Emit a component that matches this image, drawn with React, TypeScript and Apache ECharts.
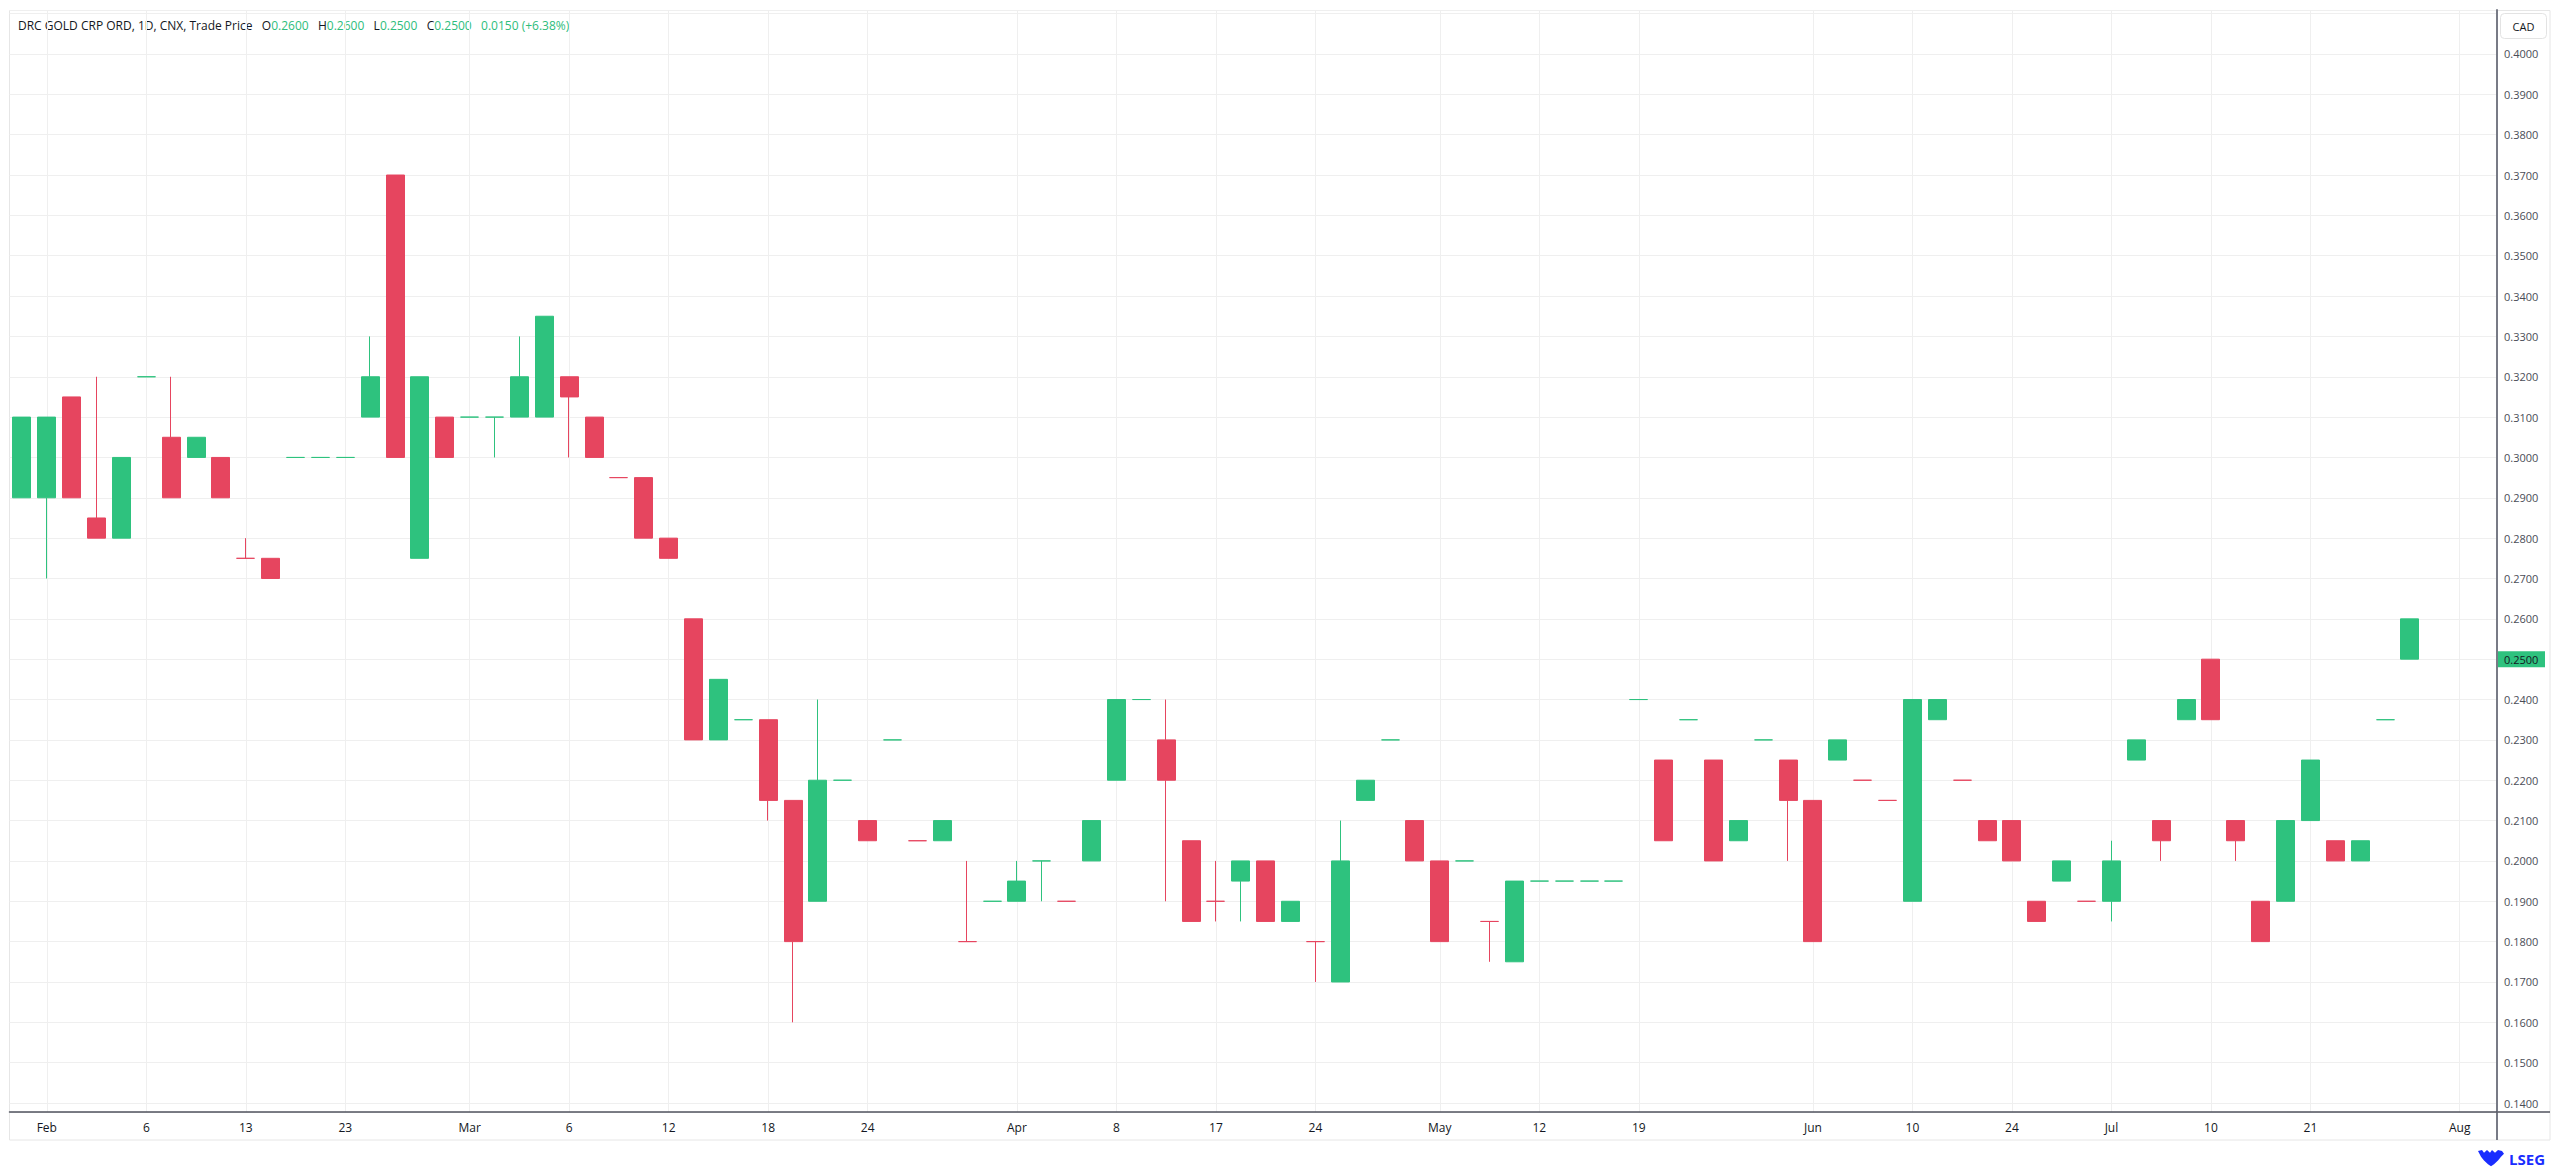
import React, { useEffect, useRef } from "react";
import * as echarts from "echarts";

// Daily OHLC bars (trading-price bars, coloured against the previous close)
const openP = [
  0.31, 0.29, 0.315, 0.285, 0.28, 0.32, 0.305, 0.3, 0.3, 0.275,
  0.275, 0.3, 0.3, 0.3, 0.31, 0.37, 0.275, 0.31, 0.31, 0.31,
  0.31, 0.31, 0.32, 0.31, 0.295, 0.295, 0.28, 0.26, 0.245, 0.235,
  0.235, 0.215, 0.19, 0.22, 0.21, 0.23, 0.205, 0.205, 0.18, 0.19,
  0.19, 0.2, 0.19, 0.2, 0.22, 0.24, 0.23, 0.185, 0.19, 0.195,
  0.2, 0.185, 0.18, 0.17, 0.215, 0.23, 0.21, 0.2, 0.2, 0.185,
  0.175, 0.195, 0.195, 0.195, 0.195, 0.24, 0.225, 0.235, 0.225, 0.205,
  0.23, 0.225, 0.215, 0.225, 0.22, 0.215, 0.19, 0.235, 0.22, 0.21,
  0.21, 0.19, 0.195, 0.19, 0.19, 0.225, 0.21, 0.235, 0.25, 0.21,
  0.19, 0.19, 0.21, 0.205, 0.2, 0.235, 0.26,
];
const closeP = [
  0.29, 0.31, 0.29, 0.28, 0.3, 0.32, 0.29, 0.305, 0.29, 0.275,
  0.27, 0.3, 0.3, 0.3, 0.32, 0.3, 0.32, 0.3, 0.31, 0.31,
  0.32, 0.335, 0.315, 0.3, 0.295, 0.28, 0.275, 0.23, 0.23, 0.235,
  0.215, 0.18, 0.22, 0.22, 0.205, 0.23, 0.205, 0.21, 0.18, 0.19,
  0.195, 0.2, 0.19, 0.21, 0.24, 0.24, 0.22, 0.205, 0.19, 0.2,
  0.185, 0.19, 0.18, 0.2, 0.22, 0.23, 0.2, 0.18, 0.2, 0.185,
  0.195, 0.195, 0.195, 0.195, 0.195, 0.24, 0.205, 0.235, 0.2, 0.21,
  0.23, 0.215, 0.18, 0.23, 0.22, 0.215, 0.24, 0.24, 0.22, 0.205,
  0.2, 0.185, 0.2, 0.19, 0.2, 0.23, 0.205, 0.24, 0.235, 0.205,
  0.18, 0.21, 0.225, 0.2, 0.205, 0.235, 0.25,
];
const lowP = [
  0.29, 0.27, 0.29, 0.28, 0.28, 0.32, 0.29, 0.3, 0.29, 0.275,
  0.27, 0.3, 0.3, 0.3, 0.31, 0.3, 0.275, 0.3, 0.31, 0.3,
  0.31, 0.31, 0.3, 0.3, 0.295, 0.28, 0.275, 0.23, 0.23, 0.235,
  0.21, 0.16, 0.19, 0.22, 0.205, 0.23, 0.205, 0.205, 0.18, 0.19,
  0.19, 0.19, 0.19, 0.2, 0.22, 0.24, 0.19, 0.185, 0.185, 0.185,
  0.185, 0.185, 0.17, 0.17, 0.215, 0.23, 0.2, 0.18, 0.2, 0.175,
  0.175, 0.195, 0.195, 0.195, 0.195, 0.24, 0.205, 0.235, 0.2, 0.205,
  0.23, 0.2, 0.18, 0.225, 0.22, 0.215, 0.19, 0.235, 0.22, 0.205,
  0.2, 0.185, 0.195, 0.19, 0.185, 0.225, 0.2, 0.235, 0.235, 0.2,
  0.18, 0.19, 0.21, 0.2, 0.2, 0.235, 0.25,
];
const highP = [
  0.31, 0.31, 0.315, 0.32, 0.3, 0.32, 0.32, 0.305, 0.3, 0.28,
  0.275, 0.3, 0.3, 0.3, 0.33, 0.37, 0.32, 0.31, 0.31, 0.31,
  0.33, 0.335, 0.32, 0.31, 0.295, 0.295, 0.28, 0.26, 0.245, 0.235,
  0.235, 0.215, 0.24, 0.22, 0.21, 0.23, 0.205, 0.21, 0.2, 0.19,
  0.2, 0.2, 0.19, 0.21, 0.24, 0.24, 0.24, 0.205, 0.2, 0.2,
  0.2, 0.19, 0.18, 0.21, 0.22, 0.23, 0.21, 0.2, 0.2, 0.185,
  0.195, 0.195, 0.195, 0.195, 0.195, 0.24, 0.225, 0.235, 0.225, 0.21,
  0.23, 0.225, 0.215, 0.23, 0.22, 0.215, 0.24, 0.24, 0.22, 0.21,
  0.21, 0.19, 0.2, 0.19, 0.205, 0.23, 0.21, 0.24, 0.25, 0.21,
  0.19, 0.21, 0.225, 0.205, 0.205, 0.235, 0.26,
];

// x axis slots (one per bar, plus empty slots to the right) and tick labels
const slotCount = 100;
const tickIndex = [1, 5, 9, 13, 18, 22, 26, 30, 34, 40, 44, 48, 52, 57, 61, 65, 72, 76, 80, 84, 88, 92, 98];
const tickText = ["Feb", "6", "13", "23", "Mar", "6", "12", "18", "24", "Apr", "8", "17", "24", "May", "12", "19", "Jun", "10", "24", "Jul", "10", "21", "Aug"];

// price scale
const yMin = 0.13777;
const yMax = 0.4109;

const UP = "#2ec27e";
const DOWN = "#e6455f";

const title = "DRC GOLD CRP ORD, 1D, CNX, Trade Price";
const currency = "CAD";

echarts.graphic.registerShape(
  "lsegCrest",
  echarts.graphic.extendPath(
    "M0 1 L4 0 L6 3 L9 0 L12 3 L14 0 L17 3 L20 0 L24 1 L26 4 L23 7 L20 11 L16 15 L13 17 L10 15 L6 11 L3 7 Z",
    {}
  )
);

export default function App() {
  const ref = useRef<HTMLDivElement>(null);

  useEffect(() => {
    document.body.style.margin = "0";
    if (!ref.current) return;
    const chart = echarts.init(ref.current, undefined, { renderer: "svg" });

    const cats = Array.from({ length: slotCount }, (_, i) => String(i));
    const labelMap: Record<number, string> = {};
    tickIndex.forEach((ix, k) => (labelMap[ix] = tickText[k]));

    const items = openP.map((o, i) => {
      const up = i === 0 ? true : closeP[i] >= closeP[i - 1];
      const c = up ? UP : DOWN;
      return {
        value: [o, closeP[i], lowP[i], highP[i]],
        itemStyle: { color: c, color0: c, borderColor: c, borderColor0: c, borderColorDoji: c },
      };
    });

    const n = closeP.length - 1;
    const chg = closeP[n] - closeP[n - 1];
    const pct = (chg / closeP[n - 1]) * 100;
    const f4 = (v: number) => v.toFixed(4);
    const header =
      `{t|${title}   O}{g|${f4(openP[n])}}{t|   H}{g|${f4(highP[n])}}` +
      `{t|   L}{g|${f4(lowP[n])}}{t|   C}{g|${f4(closeP[n])}}` +
      `{g|   ${f4(chg)} (${chg >= 0 ? "+" : ""}${pct.toFixed(2)}%)}`;

    const font = "'Open Sans', 'Noto Sans', sans-serif";

    chart.setOption({
      animation: false,
      backgroundColor: "#ffffff",
      textStyle: { fontFamily: font },
      grid: { left: 9.5, right: 63, top: 10, bottom: 58, containLabel: false },
      xAxis: {
        type: "category",
        data: cats,
        boundaryGap: true,
        axisLine: { show: true, lineStyle: { color: "#50535e", width: 1.5 } },
        axisTick: { show: false },
        axisLabel: {
          interval: (i: number) => labelMap[i] !== undefined,
          formatter: (v: string) => labelMap[Number(v)] ?? "",
          color: "#131722",
          fontSize: 12,
          fontFamily: font,
          margin: 9,
        },
        splitLine: {
          show: true,
          alignWithLabel: true,
          interval: (i: number) => labelMap[i] !== undefined,
          lineStyle: { color: "#efefef", width: 1 },
        },
      },
      yAxis: {
        type: "value",
        position: "right",
        min: yMin,
        max: yMax,
        splitNumber: 27,
        scale: true,
        axisLine: { show: true, lineStyle: { color: "#787b86", width: 2 } },
        axisTick: { show: false },
        axisLabel: {
          color: "#4a4d57",
          fontSize: 11,
          fontFamily: font,
          margin: 7,
          formatter: (v: number) => {
            const k = v * 100;
            if (Math.abs(k - Math.round(k)) > 1e-6) return "";
            if (v > 0.4005) return "";
            return v.toFixed(4);
          },
        },
        splitLine: { show: true, lineStyle: { color: "#efefef", width: 1 } },
      },
      series: [
        {
          type: "candlestick",
          data: items,
          barWidth: 18.5,
          itemStyle: { borderWidth: 1 },
          emphasis: { disabled: true },
        },
      ],
      graphic: [
        {
          id: "frame",
          type: "rect",
          shape: { x: 9.5, y: 10.5, width: 2540.5, height: 1129.5 },
          style: { fill: "none", stroke: "#e6e6e6", lineWidth: 1 },
          silent: true,
          z: -1,
        },
        {
          id: "sepV",
          type: "line",
          shape: { x1: 2497, y1: 1112, x2: 2497, y2: 1140 },
          style: { stroke: "#787b86", lineWidth: 2 },
          silent: true,
        },
        {
          id: "sepH",
          type: "line",
          shape: { x1: 2497, y1: 1112, x2: 2550, y2: 1112 },
          style: { stroke: "#50535e", lineWidth: 1.5 },
          silent: true,
        },
        {
          id: "curBox",
          type: "rect",
          shape: { x: 2500.5, y: 13.5, width: 46, height: 25, r: 4 },
          style: { fill: "#ffffff", stroke: "#e3e3e3", lineWidth: 1 },
          silent: true,
        },
        {
          id: "curText",
          type: "text",
          x: 2523.5,
          y: 26,
          style: {
            text: currency,
            fill: "#131722",
            fontSize: 11,
            fontFamily: font,
            align: "center",
            verticalAlign: "middle",
          },
          silent: true,
        },
        {
          id: "header",
          type: "text",
          x: 18,
          y: 25,
          style: {
            text: header,
            verticalAlign: "middle",
            fontFamily: font,
            fontSize: 12,
            rich: {
              t: { fill: "#131722", fontSize: 12, fontFamily: font },
              g: { fill: "#2ebd7c", fontSize: 12, fontFamily: font },
            },
          },
          silent: true,
        },
        {
          id: "crest",
          type: "lsegCrest",
          x: 2478,
          y: 1150,
          scaleX: 1,
          scaleY: 0.95,
          style: { fill: "#1a2dff" },
          silent: true,
        },
        {
          id: "lseg",
          type: "text",
          x: 2509,
          y: 1159,
          style: {
            text: "LSEG",
            fill: "#1a2dff",
            fontSize: 15,
            fontWeight: "bold",
            fontFamily: "'Open Sans', sans-serif",
            verticalAlign: "middle",
          },
          silent: true,
        },
      ],
    });

    // last-price tag on the price scale, positioned through the y axis scale
    const yTag = chart.convertToPixel({ yAxisIndex: 0 }, closeP[n]) as number;
    const xTag = chart.convertToPixel({ xAxisIndex: 0 }, cats[slotCount - 1]) as number;
    const plotRight = xTag + (xTag - (chart.convertToPixel({ xAxisIndex: 0 }, cats[slotCount - 2]) as number)) / 2;
    chart.setOption({
      graphic: [
        {
          id: "tagRect",
          type: "rect",
          shape: { x: plotRight + 1, y: yTag - 8, width: 47, height: 16 },
          style: { fill: UP },
          silent: true,
          z: 200,
        },
        {
          id: "tagText",
          type: "text",
          x: plotRight + 7,
          y: yTag,
          style: {
            text: f4(closeP[n]),
            fill: "#131722",
            fontSize: 11,
            fontFamily: font,
            verticalAlign: "middle",
          },
          silent: true,
          z: 201,
        },
      ],
    });

    return () => chart.dispose();
  }, []);

  return <div ref={ref} style={{ width: 2560, height: 1170 }} />;
}
